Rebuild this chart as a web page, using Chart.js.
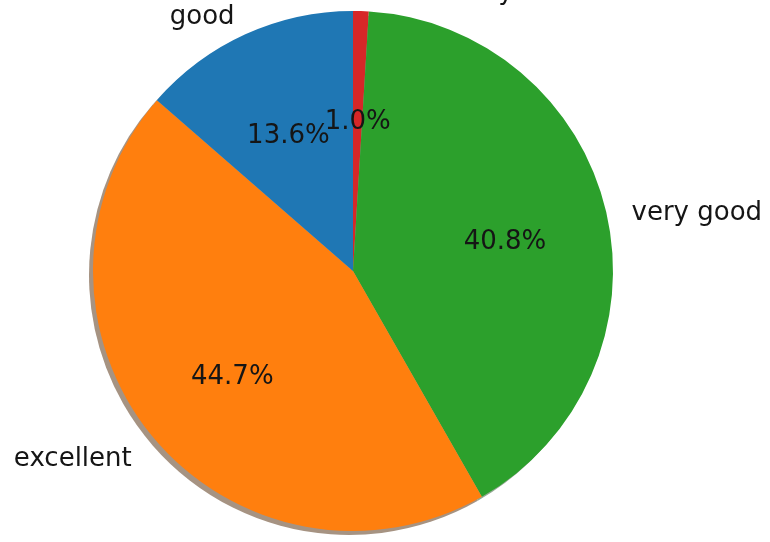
<!DOCTYPE html>
<html>
<head>
<meta charset="utf-8">
<script src="https://cdn.jsdelivr.net/npm/chart.js@4"></script>
<style>
  html, body { margin: 0; padding: 0; background: #fff; }
  #wrap { width: 770px; height: 542px; }
</style>
</head>
<body>
<div id="wrap"><canvas id="pie" width="770" height="542"></canvas></div>
<script>
// matplotlib order (counterclockwise from the top)
const labels = ["good", "excellent", "very good", "satisfactory"];
const counts = [14, 46, 42, 1];
const colors = ["#1f77b4", "#ff7f0e", "#2ca02c", "#d62728"];
const shadowColors = ["#8fa8bb", "#a69382", "#94a994", "#a99292"];

// chart.js goes clockwise, so flip the order
const cjLabels = labels.slice().reverse();
const cjCounts = counts.slice().reverse();
const cjColors = colors.slice().reverse();
const cjShadow = shadowColors.slice().reverse();
const total = counts.reduce((a, b) => a + b, 0);

const FONT = "26px 'DejaVu Sans'";
const TEXT_DY = 7;

const shadowPlugin = {
  id: "shadow",
  beforeDatasetsDraw(chart) {
    const ctx = chart.ctx;
    chart.getDatasetMeta(0).data.forEach((arc, i) => {
      const p = arc.getProps(["x", "y", "startAngle", "endAngle", "outerRadius"], true);
      ctx.save();
      ctx.translate(-4, 4);
      ctx.fillStyle = cjShadow[i];
      ctx.beginPath();
      ctx.moveTo(p.x, p.y);
      ctx.arc(p.x, p.y, p.outerRadius, p.startAngle, p.endAngle);
      ctx.closePath();
      ctx.fill();
      ctx.restore();
    });
  }
};

const labelPlugin = {
  id: "pieLabels",
  afterDatasetsDraw(chart) {
    const ctx = chart.ctx;
    ctx.save();
    ctx.font = FONT;
    ctx.fillStyle = "#151515";
    ctx.textBaseline = "middle";
    chart.getDatasetMeta(0).data.forEach((arc, i) => {
      const p = arc.getProps(["x", "y", "startAngle", "endAngle", "outerRadius"], true);
      const mid = (p.startAngle + p.endAngle) / 2;
      const cx = Math.cos(mid), cy = Math.sin(mid);
      // outer label
      const lx = p.x + p.outerRadius * 1.1 * cx;
      const ly = p.y + p.outerRadius * 1.1 * cy;
      ctx.textAlign = cx >= 0 ? "left" : "right";
      ctx.fillText(cjLabels[i], lx, ly + TEXT_DY);
      // percentage
      const px = p.x + p.outerRadius * 0.6 * cx;
      const py = p.y + p.outerRadius * 0.6 * cy;
      ctx.textAlign = "center";
      ctx.fillText((cjCounts[i] / total * 100).toFixed(1) + "%", px, py + TEXT_DY);
    });
    ctx.restore();
  }
};

new Chart(document.getElementById("pie"), {
  type: "pie",
  data: {
    labels: cjLabels,
    datasets: [{
      data: cjCounts,
      backgroundColor: cjColors,
      borderWidth: 0,
      hoverOffset: 0
    }]
  },
  options: {
    responsive: false,
    animation: false,
    rotation: 0,
    layout: { padding: { top: 11, bottom: 11, left: 93, right: 157 } },
    plugins: {
      legend: { display: false },
      tooltip: { enabled: false }
    }
  },
  plugins: [shadowPlugin, labelPlugin]
});
</script>
</body>
</html>
